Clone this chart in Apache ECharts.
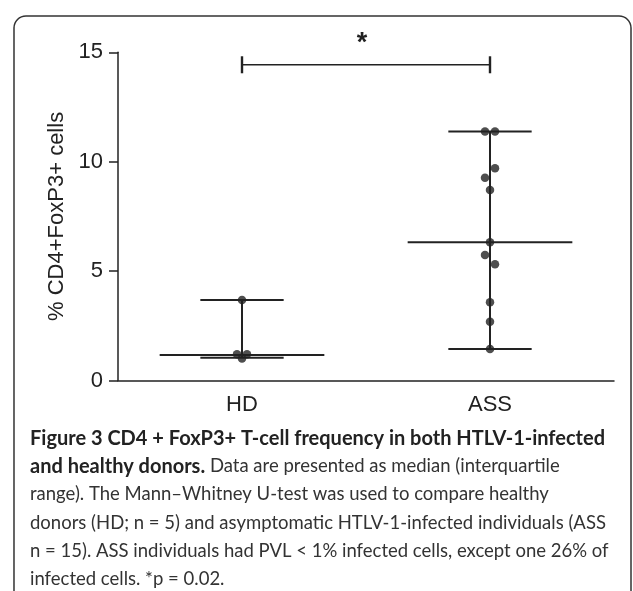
<!DOCTYPE html>
<html>
<head>
<meta charset="utf-8">
<script src="https://cdn.jsdelivr.net/npm/echarts@6/dist/echarts.min.js"></script>
<style>
  html, body { margin: 0; padding: 0; background: #fff; }
  #chart { width: 633px; height: 591px; }
</style>
</head>
<body>
<div id="chart"></div>
<script>
// groups
var groups = ['HD', 'ASS'];
// individual values, side = -1 left / 0 centre / 1 right of the group line
var hdValues = [3.68, 1.2, 1.2, 1.01];
var hdSide = [0, -1, 1, 0];
var assValues = [11.38, 11.38, 9.7, 9.27, 8.71, 6.32, 5.74, 5.31, 3.58, 2.69, 1.44];
var assSide = [-1, 1, 1, -1, 0, 0, -1, 1, 0, 0, 0];
// summary lines (low cap, median, high cap)
var lows = [1.04, 1.44];
var medians = [1.17, 6.32];
var highs = [3.68, 11.38];
// significance bar
var sigLevel = 14.43;
var sigText = '*';
var yTicks = [0, 5, 10, 15];
var yTitle = '% CD4+FoxP3+ cells';
var captionLines = [
    '{b|Figure 3 CD4 + FoxP3+ T-cell frequency in both HTLV-1-infected}',
    '{b|and healthy donors.} Data are presented as median (interquartile',
    'range). The Mann–Whitney U-test was used to compare healthy',
    'donors (HD; n = 5) and asymptomatic HTLV-1-infected individuals (ASS',
    'n = 15). ASS individuals had PVL < 1% infected cells, except one 26% of',
    'infected cells. *p = 0.02.'
];

(function () {
    var ink = '#222';
    var font = 'Liberation Sans';
    var myChart = echarts.init(document.getElementById('chart'));

    function pts(values, side, cat) {
        var out = [];
        for (var i = 0; i < values.length; i++) {
            out.push({ value: [cat, values[i]], symbolOffset: [side[i] * 5, 0] });
        }
        return out;
    }

    var rangeData = [];
    for (var i = 0; i < groups.length; i++) {
        rangeData.push([i, lows[i], medians[i], highs[i]]);
    }

    var option = {
        animation: false,
        backgroundColor: '#fff',
        grid: { left: 118, right: 19, top: 52.3, bottom: 210.5 },
        xAxis: {
            type: 'category',
            data: groups,
            axisLine: { lineStyle: { color: ink, width: 1.5 } },
            axisTick: { alignWithLabel: true, length: 10, lineStyle: { color: ink, width: 1.5 } },
            axisLabel: { color: ink, fontFamily: font, fontSize: 22, margin: 13 }
        },
        yAxis: {
            type: 'value',
            min: 0,
            max: 15,
            interval: 5,
            name: yTitle,
            nameLocation: 'middle',
            nameGap: 50,
            nameTextStyle: { color: ink, fontFamily: font, fontSize: 22 },
            splitLine: { show: false },
            axisLine: { show: true, lineStyle: { color: ink, width: 1.5 } },
            axisTick: { show: true, length: 9, lineStyle: { color: ink, width: 1.5 } },
            axisLabel: {
                color: ink, fontFamily: font, fontSize: 22, margin: 15,
                formatter: function (v) { return yTicks.indexOf(v) >= 0 ? v : ''; }
            }
        },
        series: [
            {
                // median line + range caps
                type: 'custom',
                data: rangeData,
                z: 2,
                renderItem: function (params, api) {
                    var c = api.value(0);
                    var lo = api.coord([c, api.value(1)]);
                    var md = api.coord([c, api.value(2)]);
                    var hi = api.coord([c, api.value(3)]);
                    var band = api.size([1, 0])[0];
                    var capW = band * 0.168;
                    var medW = band * 0.332;
                    var st = { stroke: ink, lineWidth: 2 };
                    return {
                        type: 'group',
                        children: [
                            { type: 'line', shape: { x1: hi[0], y1: hi[1], x2: lo[0], y2: lo[1] }, style: st },
                            { type: 'line', shape: { x1: hi[0] - capW, y1: hi[1], x2: hi[0] + capW, y2: hi[1] }, style: st },
                            { type: 'line', shape: { x1: lo[0] - capW, y1: lo[1], x2: lo[0] + capW, y2: lo[1] }, style: st },
                            { type: 'line', shape: { x1: md[0] - medW, y1: md[1], x2: md[0] + medW, y2: md[1] }, style: st }
                        ]
                    };
                }
            },
            {
                // significance bracket
                type: 'custom',
                data: [[0, 1, sigLevel]],
                z: 2,
                clip: false,
                renderItem: function (params, api) {
                    var a = api.coord([api.value(0), api.value(2)]);
                    var b = api.coord([api.value(1), api.value(2)]);
                    return {
                        type: 'group',
                        children: [
                            { type: 'line', shape: { x1: a[0], y1: a[1], x2: b[0], y2: b[1] }, style: { stroke: ink, lineWidth: 1.6 } },
                            { type: 'line', shape: { x1: a[0], y1: a[1] - 8.5, x2: a[0], y2: a[1] + 8.5 }, style: { stroke: ink, lineWidth: 2.4 } },
                            { type: 'line', shape: { x1: b[0], y1: b[1] - 8.5, x2: b[0], y2: b[1] + 8.5 }, style: { stroke: ink, lineWidth: 2.4 } },
                            {
                                type: 'text',
                                x: (a[0] + b[0]) / 2 - 4,
                                y: a[1] - 35,
                                style: { text: sigText, fill: ink, font: 'bold 27px "Liberation Sans"', align: 'center', verticalAlign: 'top' }
                            }
                        ]
                    };
                }
            },
            {
                type: 'scatter',
                symbol: 'circle',
                symbolSize: 8.5,
                itemStyle: { color: ink },
                z: 3,
                data: pts(hdValues, hdSide, 0).concat(pts(assValues, assSide, 1))
            }
        ],
        graphic: [
            {
                type: 'rect',
                shape: { x: 14, y: 16, width: 617, height: 620, r: 12 },
                style: { fill: 'none', stroke: '#333', lineWidth: 1.5 },
                silent: true
            },
            {
                type: 'text',
                x: 30,
                y: 424,
                style: {
                    text: captionLines.join('\n'),
                    fontFamily: 'Lato',
                    fontSize: 18.5,
                    lineHeight: 28.2,
                    fill: '#333',
                    rich: {
                        b: { fontFamily: 'Lato', fontSize: 20, fontWeight: 'bold', lineHeight: 28.2, fill: '#222' }
                    }
                }
            }
        ]
    };
    myChart.setOption(option);
})();
</script>
</body>
</html>
